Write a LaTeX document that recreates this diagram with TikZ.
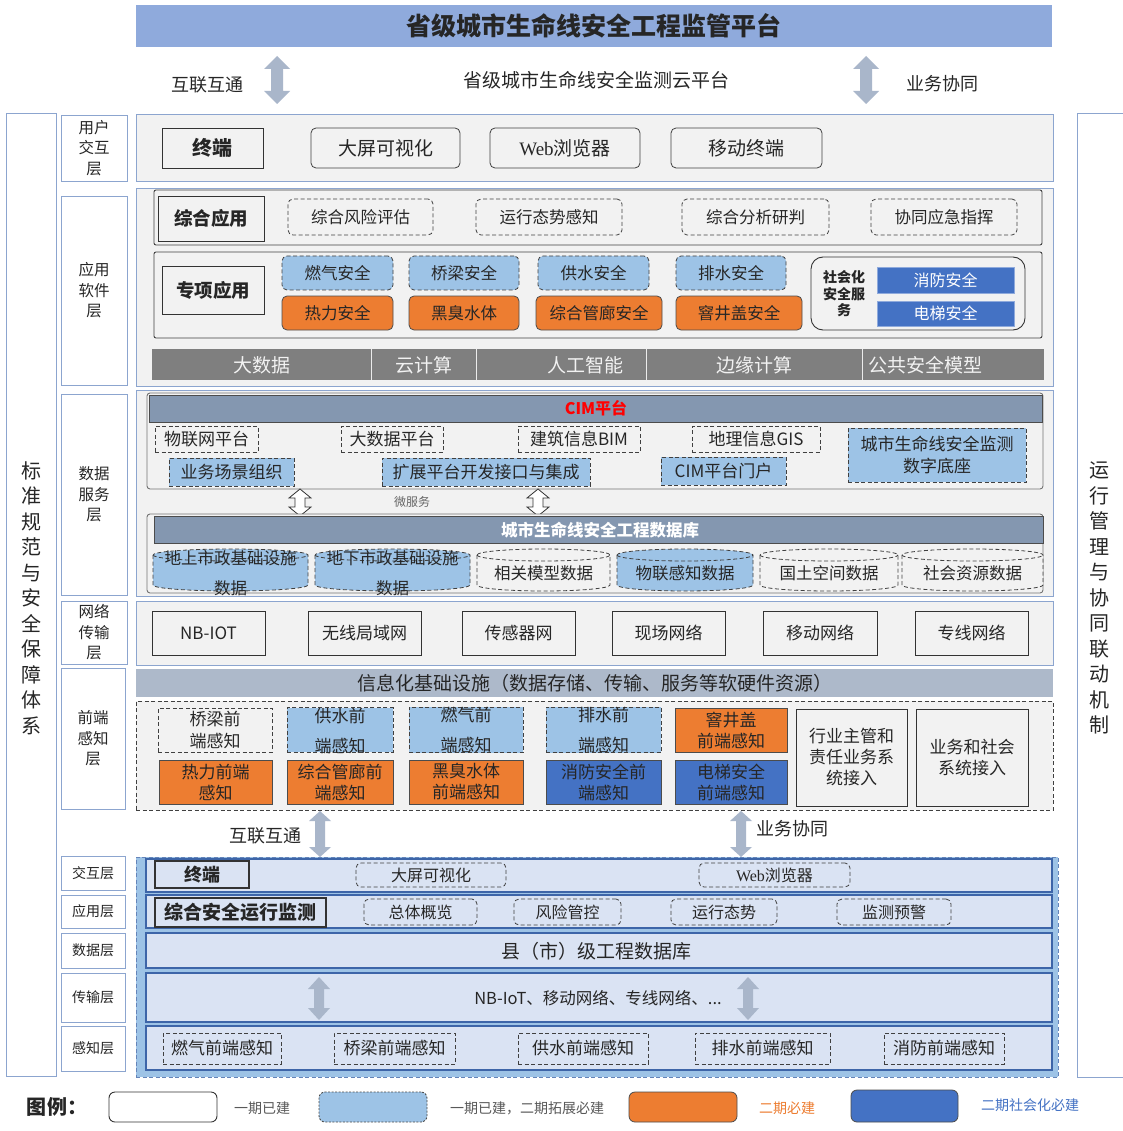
\documentclass[tikz,border=0pt]{standalone}
\usepackage{fontspec}
\setmainfont{Noto Sans CJK SC}
\newfontfamily\wserif{Liberation Serif}
\usetikzlibrary{calc}
\definecolor{banner}{HTML}{8FAADC}
\definecolor{lblue}{HTML}{9DC3E6}
\definecolor{orng}{HTML}{ED7D31}
\definecolor{dblue}{HTML}{4472C4}
\definecolor{gbar}{HTML}{7F7F7F}
\definecolor{slate}{HTML}{8497B0}
\definecolor{infra}{HTML}{ADB9CA}
\definecolor{panel}{HTML}{F2F2F2}
\definecolor{lyrc}{HTML}{8CA5CF}
\definecolor{arrc}{HTML}{A9B6CA}
\definecolor{cty}{HTML}{DAE3F3}
\definecolor{ctyb}{HTML}{3D65A8}
\definecolor{txt}{HTML}{262626}
\newcommand\fsz[2]{\fontsize{#1}{#2}\selectfont}
% [style]{name}{x1}{y1}{x2}{y2}{text}
\newcommand\bxx[7][]{\node[inner sep=0pt, outer sep=0pt, align=center, minimum width={(#5-#3)*1pt}, minimum height={(#6-#4)*1pt}, #1] (#2) at ({(#3+#5)/2},{(#4+#6)/2}) {#7};}
% [style]{name}{x}{y1}{y2}{half head}{half shaft}{head length}
\newcommand\myarr[8][fill=arrc]{%
  \coordinate (#2) at (#3,{(#4+#5)/2});
  \path[#1] (#3,#4) -- ({#3+#6},{#4+#8}) -- ({#3+#7},{#4+#8}) -- ({#3+#7},{#5-#8}) -- ({#3+#6},{#5-#8}) -- (#3,#5) -- ({#3-#6},{#5-#8}) -- ({#3-#7},{#5-#8}) -- ({#3-#7},{#4+#8}) -- ({#3-#6},{#4+#8}) -- cycle;}
% [style]{name}{x1}{y1}{x2}{y2}
\newcommand\mycyl[6][]{%
  \pgfmathsetmacro\crx{(#5-#3)/2}%
  \coordinate (#2) at ({(#3+#5)/2},{(#4+#6)/2});
  \path[#1] (#3,#4+6) -- (#3,#6-6) arc[start angle=180,end angle=360,x radius=\crx pt,y radius=6pt] -- (#5,#4+6) arc[start angle=0,end angle=180,x radius=\crx pt,y radius=6pt] -- cycle;
  \path[#1, fill=none] (#3,#4+6) arc[start angle=180,end angle=360,x radius=\crx pt,y radius=6pt];}
\tikzset{
  lyrbox/.style={draw=lyrc, fill=panel, line width=0.9pt},
  lbl/.style={draw=lyrc, fill=white, line width=0.9pt, font=\fsz{15.5}{20.5}},
  lbls/.style={draw=lyrc, fill=white, line width=0.9pt, font=\fsz{14}{17}},
  sq/.style={draw=black!80, fill=panel, line width=0.9pt},
  rnd/.style={draw=black!75, fill=panel, rounded corners=5pt, line width=0.8pt},
  dsh/.style={draw=black!75, dash pattern=on 4pt off 2.5pt, line width=0.8pt},
  rdsh/.style={dsh, rounded corners=5pt},
  blu/.style={fill=lblue, draw=black!75, dash pattern=on 4pt off 2.5pt, line width=0.8pt},
  org/.style={fill=orng, draw=black!70, line width=0.8pt},
  dkb/.style={fill=dblue, draw=black!70, line width=0.8pt},
  hdr/.style={fill=slate, draw=black!70, line width=0.8pt},
  crow/.style={fill=cty, draw=ctyb, line width=1.3pt},
  legt/.style={font=\fsz{14}{17}, text=black!65},
}
\begin{document}
\begin{tikzpicture}[x=1pt,y=-1pt, every node/.style={text=txt}]
\useasboundingbox (0,0) rectangle (1122,1131);
\fill[white] (0,0) rectangle (1122,1131);
% ---------- top
\bxx[fill=banner, font=\fsz{25}{30}\bfseries]{banner}{136}{5}{1052}{47}{省级城市生命线安全工程监管平台}
\node[font=\fsz{18}{22}] (hl1) at (207,85) {互联互通};
\node[font=\fsz{19}{23}] (cloud) at (596,80) {省级城市生命线安全监测云平台};
\node[font=\fsz{18}{22}] (yw1) at (942,84) {业务协同};
\myarr{arA}{277}{56}{104}{13}{6}{13}
\myarr{arB}{866}{56}{104}{13}{6}{13}
% ---------- side boxes
\bxx[draw=lyrc, line width=0.9pt, fill=white]{lside}{6}{113}{56}{1076}{}
\node[font=\fsz{20}{25.5}, align=center] (ltxt) at (31,598) {标\\准\\规\\范\\与\\安\\全\\保\\障\\体\\系};
\draw[lyrc, line width=0.9pt] (1123,113) -- (1077,113) -- (1077,1077) -- (1123,1077);
\node[font=\fsz{20}{25.5}, align=center] (rtxt) at (1099,598) {运\\行\\管\\理\\与\\协\\同\\联\\动\\机\\制};
% ---------- layer labels
\bxx[lbl]{L1}{61}{115}{127}{181}{用户\\交互\\层}
\bxx[lbl]{L2}{61}{196}{127}{385}{应用\\软件\\层}
\bxx[lbl]{L3}{61}{394}{127}{595}{数据\\服务\\层}
\bxx[lbl]{L4}{61}{601}{127}{664}{网络\\传输\\层}
\bxx[lbl]{L5}{61}{668}{125}{809}{前端\\感知\\层}
\bxx[lbls]{L6}{61}{856}{125}{890}{交互层}
\bxx[lbls]{L7}{61}{895}{125}{928}{应用层}
\bxx[lbls]{L8}{61}{933}{125}{968}{数据层}
\bxx[lbls]{L9}{61}{973}{125}{1022}{传输层}
\bxx[lbls]{L10}{61}{1026}{125}{1071}{感知层}
% ---------- user layer
\bxx[lyrbox]{ul}{136}{114}{1053}{181}{}
\bxx[sq, font=\fsz{20}{24}\bfseries]{u1}{162}{128}{263}{168}{终端}
\bxx[rnd, font=\fsz{19}{23}]{u2}{311}{128}{460}{168}{大屏可视化}
\bxx[rnd, font=\fsz{19}{23}]{u3}{490}{128}{640}{168}{{\wserif Web}浏览器}
\bxx[rnd, font=\fsz{19}{23}]{u4}{671}{128}{822}{168}{移动终端}
% ---------- application layer
\bxx[lyrbox]{al}{136}{188}{1053}{386}{}
\bxx[draw=black!75, fill=panel, rounded corners=2pt, line width=0.9pt]{ar1}{154}{190}{1042}{245}{}
\bxx[sq, font=\fsz{18.5}{22}\bfseries]{zh}{158}{196}{264}{241}{综合应用}
\bxx[rdsh, font=\fsz{16.5}{20}]{z1}{288}{199}{433}{235}{综合风险评估}
\bxx[rdsh, font=\fsz{16.5}{20}]{z2}{476}{199}{622}{235}{运行态势感知}
\bxx[rdsh, font=\fsz{16.5}{20}]{z3}{682}{199}{829}{235}{综合分析研判}
\bxx[rdsh, font=\fsz{16.5}{20}]{z4}{871}{199}{1017}{235}{协同应急指挥}
\bxx[draw=black!75, fill=panel, rounded corners=2pt, line width=0.9pt]{ar2}{154}{252}{1042}{338}{}
\bxx[sq, font=\fsz{18.5}{22}\bfseries]{zx}{162}{266}{264}{314}{专项应用}
\bxx[blu, rounded corners=5pt, font=\fsz{16.5}{20}]{s1}{282}{256}{393}{290}{燃气安全}
\bxx[blu, rounded corners=5pt, font=\fsz{16.5}{20}]{s2}{409}{256}{519}{290}{桥梁安全}
\bxx[blu, rounded corners=5pt, font=\fsz{16.5}{20}]{s3}{538}{256}{649}{290}{供水安全}
\bxx[blu, rounded corners=5pt, font=\fsz{16.5}{20}]{s4}{676}{256}{786}{290}{排水安全}
\bxx[org, rounded corners=5pt, font=\fsz{16.5}{20}]{s5}{282}{296}{393}{330}{热力安全}
\bxx[org, rounded corners=5pt, font=\fsz{16.5}{20}]{s6}{409}{296}{519}{330}{黑臭水体}
\bxx[org, rounded corners=5pt, font=\fsz{16.5}{20}]{s7}{536}{296}{662}{330}{综合管廊安全}
\bxx[org, rounded corners=5pt, font=\fsz{16.5}{20}]{s8}{676}{296}{802}{330}{窨井盖安全}
\bxx[draw=black!80, fill=panel, rounded corners=12pt, line width=0.9pt]{soc}{811}{257}{1025}{330}{}
\node[font=\fsz{14}{16.5}\bfseries, align=center] (soct) at (844,294) {社会化\\安全服\\务};
\bxx[fill=dblue, draw=dblue!60!white, font=\fsz{16}{19}, text=white]{s9}{877}{267}{1014}{293}{消防安全}
\bxx[fill=dblue, draw=dblue!60!white, font=\fsz{16}{19}, text=white]{s10}{877}{301}{1014}{326}{电梯安全}
\bxx[fill=gbar]{gb}{152}{349}{1044}{380}{}
\foreach \xx in {371,476,646,862} \draw[white!85!gray, line width=1pt] (\xx,349) -- (\xx,380);
\node[font=\fsz{19}{23}, text=white!95!black] (g1) at (262,365) {大数据};
\node[font=\fsz{19}{23}, text=white!95!black] (g2) at (424,365) {云计算};
\node[font=\fsz{19}{23}, text=white!95!black] (g3) at (585,365) {人工智能};
\node[font=\fsz{19}{23}, text=white!95!black] (g4) at (754,365) {边缘计算};
\node[font=\fsz{19}{23}, text=white!95!black] (g5) at (925,365) {公共安全模型};
% ---------- data layer
\bxx[lyrbox]{dl}{136}{390}{1053}{596}{}
\bxx[draw=black!55, fill=panel, rounded corners=3pt, line width=0.9pt]{cim}{147}{393}{1043}{489}{}
\bxx[hdr]{cimh}{149}{395}{1042}{422}{}
\node[font=\fsz{16}{19}\bfseries, text=red] (cimt) at (596,408) {CIM平台};
\bxx[dsh, font=\fsz{17}{20}]{c1}{155}{426}{258}{452}{物联网平台}
\bxx[dsh, font=\fsz{17}{20}]{c2}{341}{426}{443}{452}{大数据平台}
\bxx[dsh, font=\fsz{17}{20}]{c3}{518}{426}{640}{452}{建筑信息BIM}
\bxx[dsh, font=\fsz{17}{20}]{c4}{692}{426}{820}{452}{地理信息GIS}
\bxx[blu, font=\fsz{17}{20}]{c5}{169}{458}{294}{486}{业务场景组织}
\bxx[blu, font=\fsz{17}{20}]{c6}{382}{458}{590}{486}{扩展平台开发接口与集成}
\bxx[blu, font=\fsz{17}{20}]{c7}{661}{457}{786}{485}{CIM平台门户}
\bxx[blu, font=\fsz{17}{22}]{c8}{848}{428}{1026}{482}{城市生命线安全监测\\数字底座}
\myarr[draw=black!80, fill=white, line width=0.8pt]{ms1}{300}{489}{516}{11}{5}{9}
\myarr[draw=black!80, fill=white, line width=0.8pt]{ms2}{538}{489}{516}{11}{5}{9}
\node[font=\fsz{12}{14}, text=black!60] (msv) at (412,502) {微服务};
\bxx[draw=black!55, fill=panel, rounded corners=3pt, line width=0.9pt]{dbp}{147}{514}{1043}{593}{}
\bxx[hdr]{dbh}{154}{516}{1043}{543}{}
\node[font=\fsz{16.5}{19}\bfseries, text=white] (dbt) at (600,530) {城市生命线安全工程数据库};
\mycyl[blu]{d1}{153}{549}{308}{591}
\mycyl[blu]{d2}{315}{549}{470}{591}
\mycyl[dsh, fill=panel]{d3}{477}{549}{610}{591}
\mycyl[blu]{d4}{617}{549}{753}{591}
\mycyl[dsh, fill=panel]{d5}{760}{549}{898}{591}
\mycyl[dsh, fill=panel]{d6}{902}{549}{1043}{591}
\node[font=\fsz{16.5}{30}, align=center] (d1t) at ([yshift=-3pt]d1) {地上市政基础设施\\数据};
\node[font=\fsz{16.5}{30}, align=center] (d2t) at ([yshift=-3pt]d2) {地下市政基础设施\\数据};
\node[font=\fsz{16.5}{20}] (d3t) at ([yshift=-3pt]d3) {相关模型数据};
\node[font=\fsz{16.5}{20}] (d4t) at ([yshift=-3pt]d4) {物联感知数据};
\node[font=\fsz{16.5}{20}] (d5t) at ([yshift=-3pt]d5) {国土空间数据};
\node[font=\fsz{16.5}{20}] (d6t) at ([yshift=-3pt]d6) {社会资源数据};
% ---------- network layer
\bxx[lyrbox]{nl}{136}{601}{1053}{665}{}
\bxx[sq, line width=0.8pt, font=\fsz{17}{20}]{n1}{152}{611}{265}{655}{NB-IOT}
\bxx[sq, line width=0.8pt, font=\fsz{17}{20}]{n2}{308}{611}{421}{655}{无线局域网}
\bxx[sq, line width=0.8pt, font=\fsz{17}{20}]{n3}{462}{611}{575}{655}{传感器网}
\bxx[sq, line width=0.8pt, font=\fsz{17}{20}]{n4}{612}{611}{725}{655}{现场网络}
\bxx[sq, line width=0.8pt, font=\fsz{17}{20}]{n5}{763}{611}{877}{655}{移动网络}
\bxx[sq, line width=0.8pt, font=\fsz{17}{20}]{n6}{915}{611}{1028}{655}{专线网络}
\bxx[fill=infra, font=\fsz{19}{23}]{inf}{136}{669}{1053}{697}{信息化基础设施（数据存储、传输、服务等软硬件资源）}
% ---------- front perception
\bxx[dsh, fill=panel]{fp}{136}{701}{1053}{810}{}
\bxx[dsh, fill=panel, font=\fsz{17}{22}]{f1}{158}{708}{272}{752}{桥梁前\\端感知}
\bxx[blu, font=\fsz{17}{30}, text depth=0pt]{f2}{287}{708}{393}{752}{供水前\\端感知}
\bxx[blu, font=\fsz{17}{30}]{f3}{409}{708}{523}{752}{燃气前\\端感知}
\bxx[blu, font=\fsz{17}{30}]{f4}{546}{708}{661}{752}{排水前\\端感知}
\bxx[org, font=\fsz{17}{21}]{f5}{675}{708}{787}{752}{窨井盖\\前端感知}
\bxx[org, font=\fsz{17}{21}]{f6}{159}{760}{272}{804}{热力前端\\感知}
\bxx[org, font=\fsz{17}{21}]{f7}{287}{760}{393}{804}{综合管廊前\\端感知}
\bxx[org, font=\fsz{17}{21}]{f8}{409}{760}{523}{804}{黑臭水体\\前端感知}
\bxx[dkb, font=\fsz{17}{21}]{f9}{546}{760}{661}{804}{消防安全前\\端感知}
\bxx[dkb, font=\fsz{17}{21}]{f10}{675}{760}{787}{804}{电梯安全\\前端感知}
\bxx[sq, line width=0.8pt, font=\fsz{17}{21}]{f11}{796}{709}{907}{806}{行业主管和\\责任业务系\\统接入}
\bxx[sq, line width=0.8pt, font=\fsz{17}{21}]{f12}{916}{709}{1028}{806}{业务和社会\\系统接入}
% ---------- links between tiers
\node[font=\fsz{18}{22}] (hl2) at (265,836) {互联互通};
\myarr{arC}{320}{811}{857}{11}{5}{10}
\myarr{arD}{741}{811}{857}{11}{5}{10}
\node[font=\fsz{18}{22}] (yw2) at (792,829) {业务协同};
% ---------- county platform
\bxx[fill=lblue, draw=ctyb!80, dash pattern=on 4pt off 2.5pt, line width=1pt]{ctyp}{136}{857}{1058}{1077}{}
\bxx[crow]{r1}{146}{859}{1052}{892}{}
\bxx[crow]{r2}{146}{895}{1052}{928}{}
\bxx[crow]{r3}{146}{933}{1052}{968}{}
\bxx[crow]{r4}{146}{973}{1052}{1022}{}
\bxx[crow]{r5}{146}{1026}{1052}{1070}{}
\bxx[draw=black!80, fill=cty, line width=1.2pt, font=\fsz{18}{22}\bfseries]{k1}{155}{861}{249}{888}{终端}
\bxx[rdsh, font=\fsz{16}{19}]{k2}{356}{863}{506}{887}{大屏可视化}
\bxx[rdsh, font=\fsz{16}{19}]{k3}{699}{863}{850}{887}{{\wserif Web}浏览器}
\bxx[draw=black!80, fill=cty, line width=1.2pt, font=\fsz{19}{22}\bfseries]{k4}{155}{898}{326}{927}{综合安全运行监测}
\bxx[rdsh, font=\fsz{16}{19}]{k5}{364}{899}{477}{925}{总体概览}
\bxx[rdsh, font=\fsz{16}{19}]{k6}{514}{899}{621}{925}{风险管控}
\bxx[rdsh, font=\fsz{16}{19}]{k7}{671}{899}{777}{925}{运行态势}
\bxx[rdsh, font=\fsz{16}{19}]{k8}{837}{899}{951}{925}{监测预警}
\node[font=\fsz{19}{23}] (k9) at (596,951) {县（市）级工程数据库};
\node[font=\fsz{16.5}{20}] (k10) at (598,998) {NB-IoT、移动网络、专线网络、...};
\myarr{arE}{319}{977}{1020}{11}{5}{12}
\myarr{arF}{748}{977}{1020}{11}{5}{12}
\bxx[dsh, font=\fsz{17}{20}]{k11}{163}{1033}{281}{1064}{燃气前端感知}
\bxx[dsh, font=\fsz{17}{20}]{k12}{334}{1033}{455}{1064}{桥梁前端感知}
\bxx[dsh, font=\fsz{17}{20}]{k13}{518}{1033}{648}{1064}{供水前端感知}
\bxx[dsh, font=\fsz{17}{20}]{k14}{695}{1033}{830}{1064}{排水前端感知}
\bxx[dsh, font=\fsz{17}{20}]{k15}{884}{1033}{1004}{1064}{消防前端感知}
% ---------- legend
\node[font=\fsz{20}{24}\bfseries] (lg) at (57,1107) {图例：};
\bxx[draw=black!80, fill=white, rounded corners=6pt, line width=0.9pt]{lg1}{109}{1092}{217}{1122}{}
\node[legt] (lg1t) at (262,1108) {一期已建};
\bxx[fill=lblue, draw=black!70, dash pattern=on 2pt off 1.5pt, rounded corners=6pt, line width=0.9pt]{lg2}{319}{1092}{427}{1122}{}
\node[legt] (lg2t) at (527,1108) {一期已建，二期拓展必建};
\bxx[org, rounded corners=6pt]{lg3}{629}{1092}{737}{1122}{}
\node[legt, text=orng] (lg3t) at (787,1108) {二期必建};
\bxx[dkb, rounded corners=6pt]{lg4}{851}{1090}{958}{1122}{}
\node[legt, text=dblue] (lg4t) at (1030,1105) {二期社会化必建};
\end{tikzpicture}
\end{document}
